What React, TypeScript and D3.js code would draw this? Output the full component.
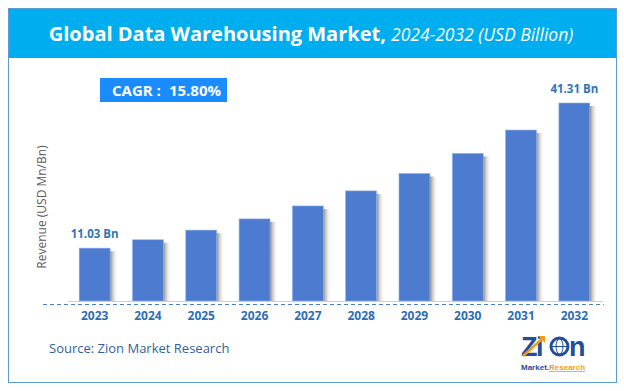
import React, { useEffect, useRef } from 'react';
import * as d3 from 'd3';

const years = ['2023', '2024', '2025', '2026', '2027', '2028', '2029', '2030', '2031', '2032'];
const revenue = [11.03, 12.77, 14.79, 17.13, 19.83, 22.97, 26.6, 30.8, 35.67, 41.31];
const labelled = ['2023', '2032'];
const cagrLabel = 'CAGR :';
const cagrValue = '15.80%';

const App = () => {
  const ref = useRef<SVGSVGElement>(null);

  useEffect(() => {
    const svg = d3.select(ref.current);
    svg.selectAll('*').remove();
    const font = '"Open Sans", sans-serif';

    const defs = svg.append('defs');
    const grad = defs.append('linearGradient').attr('id', 'shadow').attr('x1', '0').attr('x2', '1');
    grad.append('stop').attr('offset', '0%').attr('stop-color', '#8a8a8a');
    grad.append('stop').attr('offset', '100%').attr('stop-color', '#ffffff').attr('stop-opacity', 0);

    // frame + title band
    svg.append('rect').attr('x', 8.5).attr('y', 8.5).attr('width', 608).attr('height', 374)
      .attr('fill', '#fff').attr('stroke', '#5b9bd5').attr('stroke-width', 1);
    svg.append('rect').attr('x', 9).attr('y', 9).attr('width', 607).attr('height', 49).attr('fill', '#00aeef');

    const title = svg.append('text').attr('x', 311).attr('y', 41).attr('text-anchor', 'middle')
      .attr('fill', '#fff').attr('font-family', font);
    title.append('tspan').attr('font-weight', 'bold').attr('font-size', 20).text('Global Data Warehousing Market, ');
    title.append('tspan').attr('font-style', 'italic').attr('font-size', 17.5).text('2024-2032 (USD Billion)');

    // CAGR box
    svg.append('rect').attr('x', 100).attr('y', 78).attr('width', 127).attr('height', 24).attr('fill', '#1a8cff');
    svg.append('text').attr('x', 112).attr('y', 96).attr('fill', '#fff').attr('font-family', font)
      .attr('font-weight', 'bold').attr('font-size', 15).text(cagrLabel);
    svg.append('text').attr('x', 221).attr('y', 96).attr('text-anchor', 'end').attr('fill', '#fff')
      .attr('font-family', font).attr('font-weight', 'bold').attr('font-size', 15).text(cagrValue);

    const baseY = 301;
    const x = d3.scaleBand().domain(years).range([68, 601]).paddingInner(0.42).paddingOuter(0.21);
    const y = d3.scaleLinear().domain([0, 41.31]).range([baseY, 103]);

    const g = svg.append('g');
    // shadows
    g.selectAll('rect.sh').data(years).join('rect').attr('class', 'sh')
      .attr('x', d => (x(d) as number) + x.bandwidth())
      .attr('y', (d, i) => y(revenue[i]) + 3)
      .attr('width', 8)
      .attr('height', (d, i) => baseY - y(revenue[i]) - 3)
      .attr('fill', 'url(#shadow)');
    g.selectAll('rect.bar').data(years).join('rect').attr('class', 'bar')
      .attr('x', d => x(d) as number)
      .attr('y', (d, i) => y(revenue[i]))
      .attr('width', x.bandwidth())
      .attr('height', (d, i) => baseY - y(revenue[i]))
      .attr('fill', '#4d7bd0')
      .attr('stroke', '#8fb0e8').attr('stroke-width', 0.6);

    // baseline + dashed line
    svg.append('line').attr('x1', 68).attr('x2', 603).attr('y1', baseY + 0.5).attr('y2', baseY + 0.5)
      .attr('stroke', '#d0d0d0').attr('stroke-width', 1);
    svg.append('line').attr('x1', 43).attr('x2', 604).attr('y1', 304.5).attr('y2', 304.5)
      .attr('stroke', '#4a7fc8').attr('stroke-width', 1).attr('stroke-dasharray', '4,3');

    // year labels
    const axis = d3.axisBottom(x).tickSize(0).tickPadding(0);
    const ax = svg.append('g').attr('transform', 'translate(0,311)').call(axis);
    ax.select('.domain').remove();
    ax.selectAll('text').attr('font-family', font).attr('font-weight', 'bold').attr('font-size', 12)
      .attr('fill', '#2e6db4');

    // value labels
    svg.selectAll('text.val').data(years.filter(d => labelled.includes(d))).join('text').attr('class', 'val')
      .attr('x', d => (x(d) as number) + x.bandwidth() / 2)
      .attr('y', d => y(revenue[years.indexOf(d)]) - 10)
      .attr('text-anchor', 'middle').attr('font-family', font).attr('font-weight', 'bold')
      .attr('font-size', 11.5).attr('fill', '#2e75b6')
      .text(d => `${revenue[years.indexOf(d)].toFixed(2)} Bn`);

    // y title
    svg.append('text').attr('transform', 'translate(46,207) rotate(-90)').attr('text-anchor', 'middle')
      .attr('font-family', font).attr('font-size', 12).attr('fill', '#595959').text('Revenue (USD Mn/Bn)');

    // source
    svg.append('text').attr('x', 49).attr('y', 353).attr('font-family', font).attr('font-size', 13)
      .attr('fill', '#2f5f9e').text('Source: Zion Market Research');

    // logo
    const lf = '"Liberation Sans", Arial, sans-serif';
    const logo = svg.append('g').attr('transform', 'translate(521,335)');
    logo.append('text').attr('x', 0).attr('y', 21).attr('font-family', lf).attr('font-weight', 'bold')
      .attr('font-size', 27).attr('fill', '#1f4e9a').attr('letter-spacing', -1.5).text('Zi');
    logo.append('circle').attr('cx', 38.5).attr('cy', 11.5).attr('r', 8.5).attr('fill', '#fff')
      .attr('stroke', '#1f4e9a').attr('stroke-width', 3);
    logo.append('ellipse').attr('cx', 38.5).attr('cy', 11.5).attr('rx', 3.5).attr('ry', 7.5).attr('fill', 'none')
      .attr('stroke', '#1f4e9a').attr('stroke-width', 1);
    logo.append('line').attr('x1', 30.5).attr('x2', 46.5).attr('y1', 11.5).attr('y2', 11.5).attr('stroke', '#1f4e9a');
    logo.append('text').attr('x', 48).attr('y', 21).attr('font-family', lf).attr('font-weight', 'bold')
      .attr('font-size', 27).attr('fill', '#1f4e9a').text('n');
    logo.append('path').attr('d', 'M2,21 L22,3').attr('stroke', '#f39c12').attr('stroke-width', 2.5);
    logo.append('path').attr('d', 'M17,1 L24,1 L24,8 Z').attr('fill', '#f39c12');
    const sub = logo.append('text').attr('x', 0).attr('y', 35).attr('font-family', lf)
      .attr('font-weight', 'bold').attr('font-size', 8);
    sub.append('tspan').attr('fill', '#1f4e9a').text('Market.');
    sub.append('tspan').attr('fill', '#f39c12').attr('text-decoration', 'underline').text('Research');
  }, []);

  return (
    <svg ref={ref} width={624} height={391} style={{ position: 'absolute', left: 0, top: 0, background: '#fff' }} />
  );
};

export default App;
